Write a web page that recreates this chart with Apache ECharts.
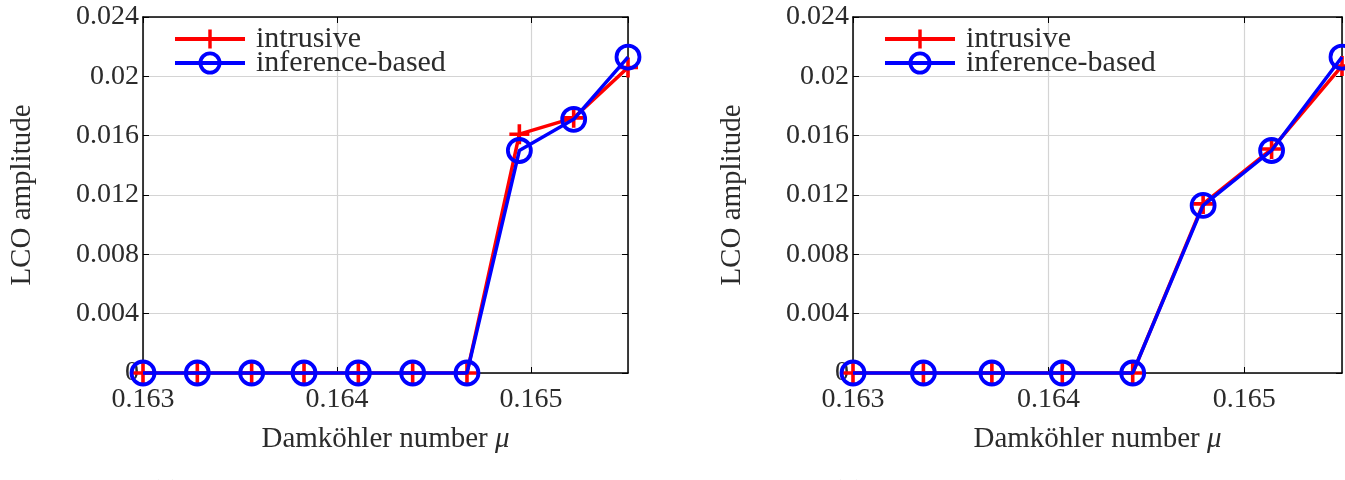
<!DOCTYPE html>
<html>
<head>
<meta charset="utf-8">
<script src="https://cdn.jsdelivr.net/npm/echarts@6/dist/echarts.min.js"></script>
<style>
html,body{margin:0;padding:0;background:#fff;}
#c{width:1345px;height:480px;}
</style>
</head>
<body>
<div id="c"></div>
<script>
// ---- data ----
const seriesNames = ['intrusive', 'inference-based'];
const xTickLabels = ['0.163', '0.164', '0.165'];
const yTickLabels = ['0', '0.004', '0.008', '0.012', '0.016', '0.02', '0.024'];

const muA = [0.163, 0.16328, 0.16356, 0.16383, 0.16411, 0.16439, 0.16467, 0.16494, 0.16522, 0.1655];
const intrusiveA = [0, 0, 0, 0, 0, 0, 0, 0.0161, 0.0172, 0.0206];
const inferenceA = [0, 0, 0, 0, 0, 0, 0, 0.0150, 0.0171, 0.0213];

const muB = [0.163, 0.16336, 0.16371, 0.16407, 0.16443, 0.16479, 0.16514, 0.1655];
const intrusiveB = [0, 0, 0, 0, 0, 0.0114, 0.0151, 0.0207];
const inferenceB = [0, 0, 0, 0, 0, 0.0113, 0.0150, 0.0213];

const captions = ['(a)', '(b)'];

// ---- chart ----
const FONT = 'Liberation Serif';
const TXT = '#2b2b2b';
const FS = 28;
const plus = 'path://M4.1,0H5.9V4.1H10V5.9H5.9V10H4.1V5.9H0V4.1H4.1Z';

const grids = [
  {left: 143, top: 17, width: 485, height: 356},
  {left: 853, top: 17, width: 489, height: 356}
];

const xAxes = [], yAxes = [], series = [], legends = [];
function pair(a, b) { return a.map((v, i) => [v, b[i]]); }

grids.forEach((g, gi) => {
  const xBase = {
    type: 'value', gridIndex: gi, min: 0.163, max: 0.1655, interval: 0.001,
    axisLine: {show: true, onZero: false, lineStyle: {color: '#000', width: 1.5}},
    axisTick: {show: true, inside: true, length: 6, lineStyle: {color: '#000', width: 1}},
    splitLine: {show: false}
  };
  xAxes.push(Object.assign({}, xBase, {
    position: 'bottom',
    splitLine: {show: true, lineStyle: {color: '#d4d4d4', width: 1.2}},
    axisLabel: {
      show: true, margin: 13, showMaxLabel: false,
      fontFamily: FONT, fontSize: FS, color: TXT,
      formatter: v => { const k = Math.round((v - 0.163) / 0.001); return xTickLabels[k] || ''; }
    },
    name: 'Damköhler number {i|μ}', nameLocation: 'middle', nameGap: 52,
    nameTextStyle: {fontFamily: FONT, fontSize: 29, color: TXT,
      rich: {i: {fontFamily: FONT, fontSize: 29, fontStyle: 'italic', color: TXT}}}
  }));
  xAxes.push(Object.assign({}, xBase, {position: 'top', axisLabel: {show: false}}));

  const yBase = {
    type: 'value', gridIndex: gi, min: 0, max: 0.024, interval: 0.004,
    axisLine: {show: true, onZero: false, lineStyle: {color: '#000', width: 1.5}},
    axisTick: {show: true, inside: true, length: 6, lineStyle: {color: '#000', width: 1}},
    splitLine: {show: false}
  };
  yAxes.push(Object.assign({}, yBase, {
    position: 'left',
    splitLine: {show: true, lineStyle: {color: '#d4d4d4', width: 1.2}},
    axisLabel: {
      show: true, margin: 4, fontFamily: FONT, fontSize: FS, color: TXT,
      formatter: v => { const k = Math.round(v / 0.004); return yTickLabels[k] || ''; }
    },
    name: 'LCO amplitude', nameLocation: 'middle', nameGap: 106, nameRotate: 90,
    nameTextStyle: {fontFamily: FONT, fontSize: 29, color: TXT}
  }));
  yAxes.push(Object.assign({}, yBase, {position: 'right', axisLabel: {show: false}}));

  const mu = gi === 0 ? muA : muB;
  const ia = gi === 0 ? intrusiveA : intrusiveB;
  const ib = gi === 0 ? inferenceA : inferenceB;
  series.push({
    name: seriesNames[0], type: 'line', xAxisIndex: gi * 2, yAxisIndex: gi * 2,
    data: pair(mu, ia), symbol: plus, symbolSize: 20, showAllSymbol: true,
    itemStyle: {color: '#ff0000'}, lineStyle: {color: '#ff0000', width: 3.5},
    emphasis: {disabled: true}, animation: false, z: 2, clip: false
  });
  series.push({
    name: seriesNames[1], type: 'line', xAxisIndex: gi * 2, yAxisIndex: gi * 2,
    data: pair(mu, ib), symbol: 'circle', symbolSize: 23, showAllSymbol: true,
    itemStyle: {color: 'rgba(0,0,0,0)', borderColor: '#0000ff', borderWidth: 3.8},
    lineStyle: {color: '#0000ff', width: 3.5},
    emphasis: {disabled: true}, animation: false, z: 3, clip: false
  });
  legends.push({
    left: g.left + 30, top: 24, orient: 'vertical', itemGap: -6,
    itemWidth: 70, itemHeight: 24, padding: 0, selectedMode: false,
    data: seriesNames.map((n, k) => ({
      name: n,
      itemStyle: k === 0 ? {color: '#ff0000'} : {color: 'rgba(0,0,0,0)', borderColor: '#0000ff', borderWidth: 3.8},
      lineStyle: {width: 4, color: k === 0 ? '#ff0000' : '#0000ff'}
    })),
    textStyle: {fontFamily: FONT, fontSize: 30, color: TXT, padding: [0, 0, 0, 6]}
  });
});

const chart = echarts.init(document.getElementById('c'), null, {renderer: 'canvas'});
chart.setOption({
  animation: false,
  backgroundColor: '#fff',
  grid: grids,
  xAxis: xAxes,
  yAxis: yAxes,
  legend: legends,
  series: series,
  graphic: captions.map((t, i) => ({
    type: 'text', left: i === 0 ? 150 : 832, top: 478,
    style: {text: t, fontFamily: FONT, fontSize: FS, fill: TXT}
  }))
});
</script>
</body>
</html>
